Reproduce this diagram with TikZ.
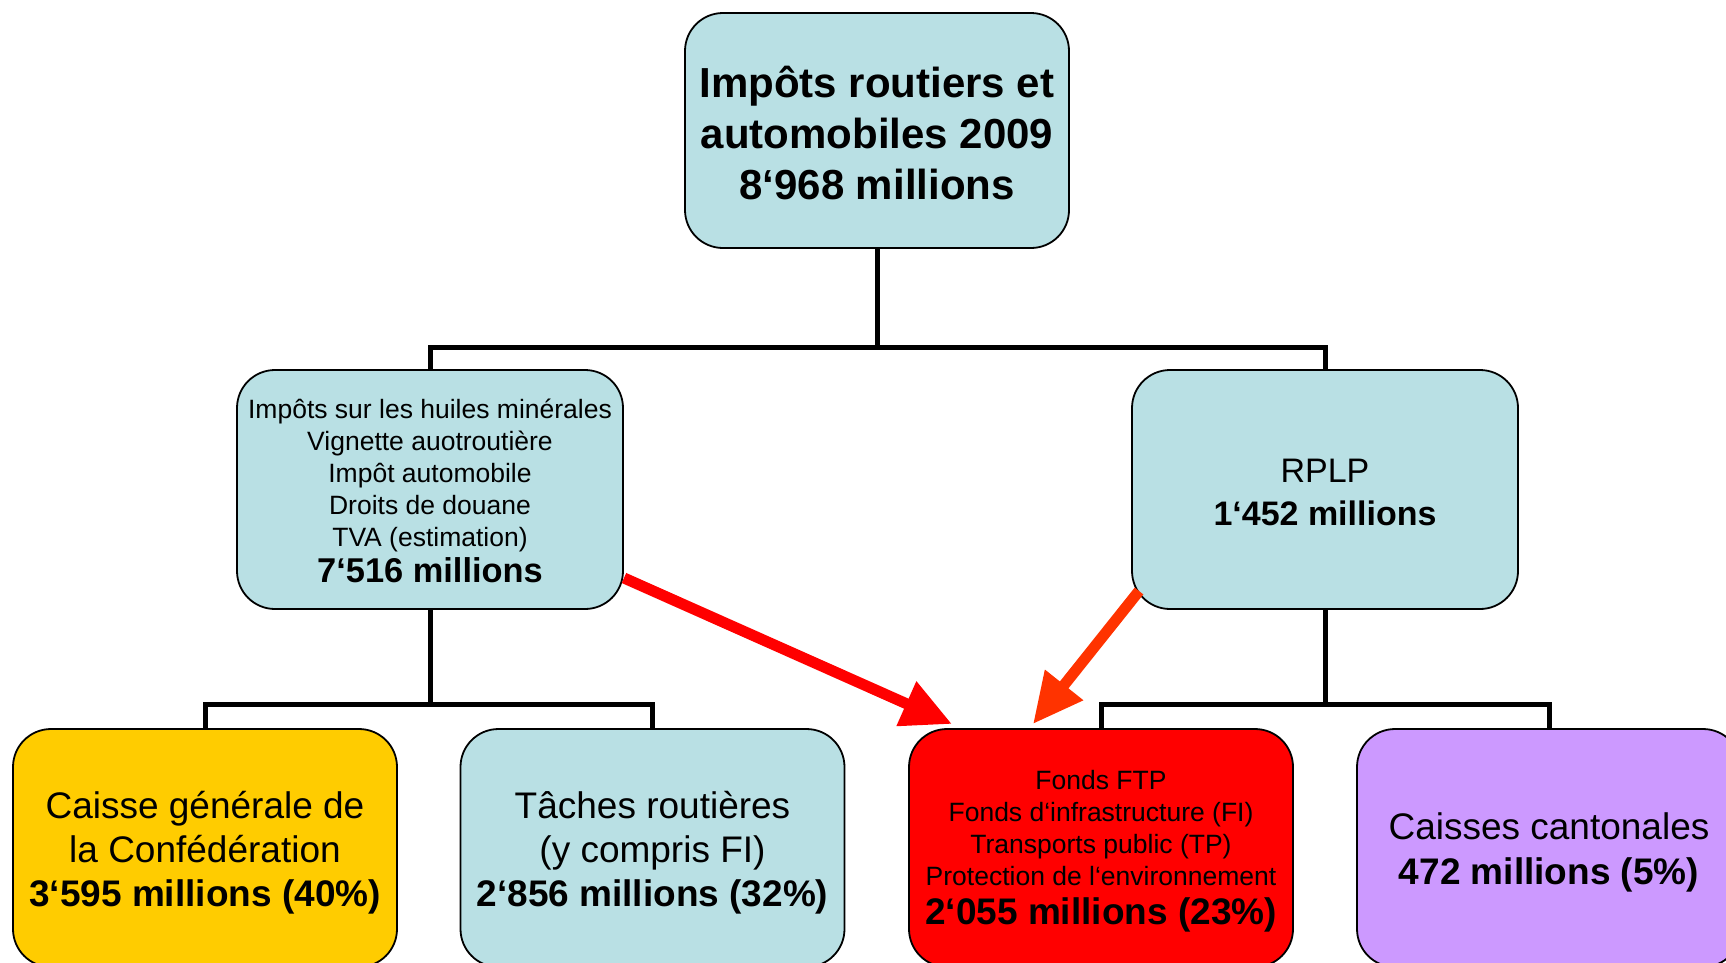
\documentclass[tikz,border=0pt]{standalone}
\usepackage{fontspec}
\setmainfont{Liberation Sans}
\usetikzlibrary{arrows.meta}
\definecolor{boxblue}{RGB}{185,224,228}
\definecolor{boxyellow}{RGB}{255,204,0}
\definecolor{boxred}{RGB}{255,0,0}
\definecolor{boxpurple}{RGB}{204,153,255}
\definecolor{arrowred}{RGB}{255,0,0}
\definecolor{arroworange}{RGB}{255,51,0}
\begin{document}
\begin{tikzpicture}[x=1pt,y=-1pt,
  box/.style={draw=black,line width=1.8pt,rounded corners=38pt,minimum width=384pt,minimum height=238pt,inner sep=0pt},
  txt/.style={inner sep=0pt,align=center},
  conn/.style={line width=5pt,draw=black,line join=miter},
  flow/.style={line width=11pt,-{Triangle[length=50pt,width=46pt]}},
]
\useasboundingbox (0,0) rectangle (1726,962);
\clip (0,0) rectangle (1726,962);

% boxes
\node[box,fill=boxblue,minimum height=235pt] (top) at (877,130.5) {};
\node[box,fill=boxblue,minimum width=386pt,minimum height=239pt] (ml) at (430,489.5) {};
\node[box,fill=boxblue,minimum width=386pt,minimum height=239pt] (rp) at (1325,489.5) {};
\node[box,fill=boxyellow] (cg) at (205,848) {};
\node[box,fill=boxblue] (tr) at (652.5,848) {};
\node[box,fill=boxred] (ftp) at (1101,848) {};
\node[box,fill=boxpurple] (cc) at (1549,848) {};

% texts
\node[txt,font=\fontsize{42}{51}\selectfont\bfseries] (toptext) at ([yshift=-3pt]top.center)
  {Impôts routiers et\\automobiles 2009\\8‘968 millions};
\node[txt,font=\fontsize{26.5}{32}\selectfont] (mltext) at ([yshift=-1pt]ml.center)
  {Impôts sur les huiles minérales\\Vignette auotroutière\\Impôt automobile\\Droits de douane\\TVA (estimation)\\[4pt]{\fontsize{34.4}{32}\selectfont\bfseries 7‘516 millions}};
\node[txt,font=\fontsize{34}{43}\selectfont] (rptext) at ([yshift=-3pt]rp.center)
  {RPLP\\\textbf{1‘452 millions}};
\node[txt,font=\fontsize{37}{44}\selectfont] (cgtext) at ([yshift=-4.5pt]cg.center)
  {Caisse générale de\\la Confédération\\\textbf{3‘595 millions (40\%)}};
\node[txt,font=\fontsize{37}{44}\selectfont] (trtext) at ([yshift=-4.5pt]tr.center)
  {Tâches routières\\(y compris FI)\\\textbf{2‘856 millions (32\%)}};
\node[txt,font=\fontsize{26.5}{32}\selectfont] (ftptext) at ([yshift=-3.5pt]ftp.center)
  {Fonds FTP\\Fonds d‘infrastructure (FI)\\Transports public (TP)\\Protection de l‘environnement\\[7pt]{\fontsize{37}{32}\selectfont\bfseries 2‘055 millions (23\%)}};
\node[txt,font=\fontsize{37}{45}\selectfont] (cctext) at ([yshift=-4.5pt]cc.center)
  {Caisses cantonales\\\textbf{472 millions (5\%)}};

% tree connectors
\coordinate (j1) at (877,347);
\coordinate (j2) at (430,704);
\coordinate (j3) at (1325,704);
\draw[conn] (top.south) -- (j1);
\draw[conn] (ml.north) |- (j1) -| (rp.north);
\draw[conn] (ml.south) -- (j2);
\draw[conn] (cg.north) |- (j2) -| (tr.north);
\draw[conn] (rp.south) -- (j3);
\draw[conn] (ftp.north) |- (j3) -| (cc.north);

% flow arrows
\coordinate (a1s) at (624,578);
\coordinate (a1e) at (952,724);
\coordinate (a2s) at (1139,591);
\coordinate (a2e) at (1033,724);
\draw[flow,draw=arrowred,fill=arrowred] (a1s) -- (a1e);
\draw[flow,draw=arroworange,fill=arroworange] (a2s) -- (a2e);
\end{tikzpicture}
\end{document}
